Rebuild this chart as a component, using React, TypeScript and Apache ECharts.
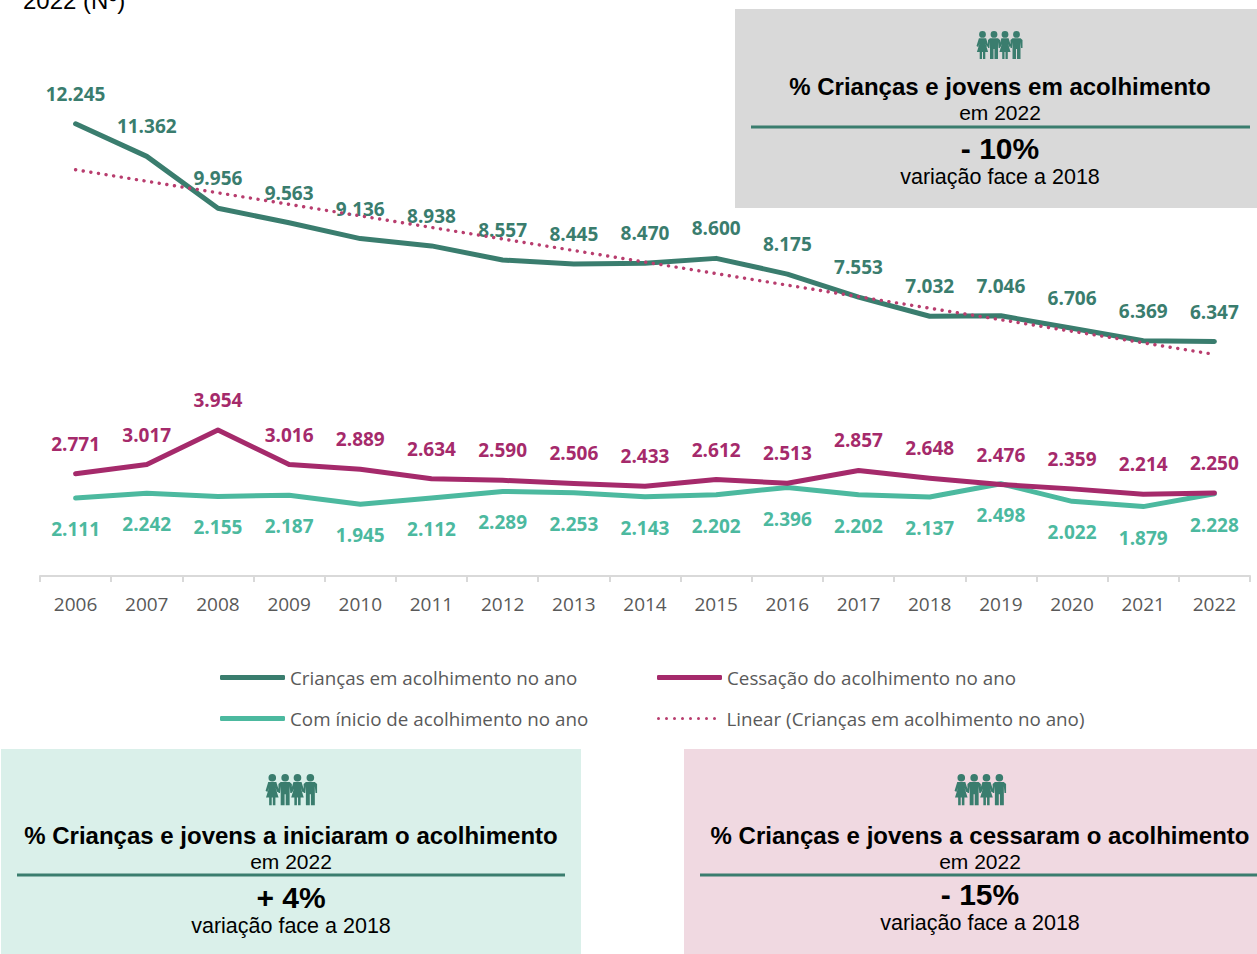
import React, { useEffect, useRef } from "react";
import * as echarts from "echarts";

const years = ["2006","2007","2008","2009","2010","2011","2012","2013","2014","2015","2016","2017","2018","2019","2020","2021","2022"];
const acolhimento = [12245,11362,9956,9563,9136,8938,8557,8445,8470,8600,8175,7553,7032,7046,6706,6369,6347];
const cessacao = [2771,3017,3954,3016,2889,2634,2590,2506,2433,2612,2513,2857,2648,2476,2359,2214,2250];
const inicio = [2111,2242,2155,2187,1945,2112,2289,2253,2143,2202,2396,2202,2137,2498,2022,1879,2228];
const trendEnds = [11000,null,null,null,null,null,null,null,null,null,null,null,null,null,null,null,6000];

const nameA = "Crianças em acolhimento no ano";
const nameC = "Cessação do acolhimento no ano";
const nameI = "Com ínicio de acolhimento no ano";
const nameT = "Linear (Crianças em acolhimento no ano)";

const DARK = "#3a7d6e";
const CRIMSON = "#a52a6b";
const TEAL = "#4cb99f";
const DOT = "#b83d6e";
const GREY = "#595959";
const LABEL_FONT = "Open Sans";
const BOX_FONT = "Liberation Sans";

const fmt = (v: number) => {
  const s = String(v);
  return s.length > 3 ? s.slice(0, -3) + "." + s.slice(-3) : s;
};

const girl = (c: number) =>
  `M${c + 3.4} 3.4A3.4 3.4 0 1 1 ${c - 3.4} 3.4A3.4 3.4 0 1 1 ${c + 3.4} 3.4Z` +
  `M${c - 3.6} 7.2L${c + 3.6} 7.2L${c + 6} 15L${c + 4.4} 16L${c + 3} 12.5L${c + 5.6} 21L${c + 2.8} 21L${c + 2.8} 28L${c + 0.5} 28L${c + 0.5} 21L${c - 0.5} 21L${c - 0.5} 28L${c - 2.8} 28L${c - 2.8} 21L${c - 5.6} 21L${c - 3} 12.5L${c - 4.4} 16L${c - 6} 15Z`;
const boy = (c: number) =>
  `M${c + 3.4} 3.4A3.4 3.4 0 1 1 ${c - 3.4} 3.4A3.4 3.4 0 1 1 ${c + 3.4} 3.4Z` +
  `M${c - 4} 7.2L${c + 4} 7.2L${c + 6} 9L${c + 6} 17L${c + 4.6} 17L${c + 4} 11L${c + 4} 28L${c + 0.5} 28L${c + 0.5} 18L${c - 0.5} 18L${c - 0.5} 28L${c - 4} 28L${c - 4} 11L${c - 4.6} 17L${c - 6} 17L${c - 6} 9Z`;
const peoplePath = girl(6.5) + boy(18) + girl(29) + boy(40.5);
echarts.graphic.registerShape("people", echarts.graphic.extendPath(peoplePath, {}));

const dotsIcon =
  "path://" +
  [0, 1, 2, 3, 4, 5, 6, 7].map((i) => {
    const c = i * 8 + 1.5;
    return `M${c + 1.5} 1.5A1.5 1.5 0 1 1 ${c - 1.5} 1.5A1.5 1.5 0 1 1 ${c + 1.5} 1.5Z`;
  }).join("");

const text = (t: string, x: number, y: number, size: number, bold = false) => ({
  type: "text",
  x,
  y,
  z: 10,
  style: {
    text: t,
    x: 0,
    y: 0,
    fill: "#000",
    align: "center",
    verticalAlign: "middle",
    fontFamily: BOX_FONT,
    fontSize: size,
    fontWeight: bold ? "bold" : "normal",
  },
});

const panel = (
  r: { x: number; y: number; w: number; h: number; fill: string },
  cx: number,
  title: string,
  change: string,
  ys: number[],
  rule: number[],
  icon: { x: number; y: number; s: number },
) => [
  { type: "rect", z: 5, shape: { x: r.x, y: r.y, width: r.w, height: r.h }, style: { fill: r.fill } },
  { type: "people", z: 10, x: icon.x, y: icon.y, scaleX: icon.s, scaleY: icon.s, style: { fill: DARK } },
  text(title, cx, ys[0], 24, true),
  text("em 2022", cx, ys[1], 21),
  { type: "line", z: 10, shape: { x1: rule[0], y1: ys[2], x2: rule[1], y2: ys[2] }, style: { stroke: DARK, lineWidth: 3 } },
  text(change, cx, ys[3], 30, true),
  text("variação face a 2018", cx, ys[4], 21.5),
];

export default function App() {
  const ref = useRef<HTMLDivElement>(null);
  useEffect(() => {
    const chart = echarts.init(ref.current!, undefined, { renderer: "svg" });
    const lbl = (color: string, position: string) => ({
      show: true,
      position,
      distance: position === "bottom" ? 21 : 20,
      color,
      fontFamily: LABEL_FONT,
      fontWeight: 700,
      fontSize: 19,
      formatter: (p: any) => fmt(p.value),
    });
    const legendBase = {
      padding: 0,
      itemWidth: 65,
      itemHeight: 5,
      textStyle: { color: GREY, fontFamily: LABEL_FONT, fontSize: 18.8 },
      selectedMode: false,
    };
    const line = (name: string, data: any[], color: string, position: string, z: number) => ({
      name,
      type: "line",
      data,
      symbol: "circle",
      symbolSize: 1,
      showSymbol: true,
      showAllSymbol: true,
      z,
      lineStyle: { color, width: 5, cap: "round", join: "round" },
      itemStyle: { color },
      label: lbl(color, position),
    });
    chart.setOption({
      animation: false,
      backgroundColor: "#fff",
      grid: { left: 40, right: 7, top: 22, bottom: 378 },
      xAxis: {
        type: "category",
        data: years,
        boundaryGap: true,
        axisLine: { lineStyle: { color: "#d9d9d9", width: 2 } },
        axisTick: { show: true, length: 6, lineStyle: { color: "#d9d9d9", width: 2 } },
        axisLabel: { color: GREY, fontFamily: LABEL_FONT, fontSize: 19, margin: 18 },
      },
      yAxis: { type: "value", min: 0, max: 15000, show: false, splitLine: { show: false } },
      legend: [
        { ...legendBase, left: 220, top: 668, icon: "roundRect", data: [nameA] },
        { ...legendBase, left: 657, top: 668, icon: "roundRect", data: [nameC] },
        { ...legendBase, left: 220, top: 709, icon: "roundRect", data: [nameI] },
        {
          ...legendBase,
          left: 657,
          top: 709,
          itemWidth: 60,
          itemHeight: 3,
          icon: dotsIcon,
          textStyle: { ...legendBase.textStyle, padding: [0, 0, 0, 5] },
          data: [nameT],
        },
      ],
      series: [
        line(nameA, acolhimento, DARK, "top", 3),
        line(nameC, cessacao, CRIMSON, "top", 3),
        line(nameI, inicio, TEAL, "bottom", 2),
        { name: nameT, type: "line", data: trendEnds, connectNulls: true, symbol: "none", z: 4, lineStyle: { color: DOT, width: 3.4, type: [0.1, 7.6], cap: "round" }, itemStyle: { color: DOT } },
      ],
      graphic: [
        { type: "text", x: 23, y: -12, z: 10, style: { text: "2022 (Nº)", fill: "#000", fontFamily: BOX_FONT, fontSize: 24 } },
        ...panel({ x: 735, y: 9, w: 522, h: 199, fill: "#d9d9d9" }, 1000, "% Crianças e jovens em acolhimento", "- 10%", [86.5, 112, 127, 148, 176.5], [751, 1250], { x: 976, y: 31, s: 1 }),
        ...panel({ x: 1, y: 749, w: 580, h: 205, fill: "#daf0ea" }, 291, "% Crianças e jovens a iniciaram o acolhimento", "+ 4%", [835.5, 861, 875, 897, 925.5], [17, 565], { x: 265, y: 774, s: 1.12 }),
        ...panel({ x: 684, y: 749, w: 573, h: 205, fill: "#f0d9e1" }, 980, "% Crianças e jovens a cessaram o acolhimento", "- 15%", [835.5, 861, 875, 894, 922.5], [700, 1257], { x: 954, y: 774, s: 1.12 }),
      ],
    });
    return () => chart.dispose();
  }, []);
  return <div ref={ref} style={{ position: "absolute", left: 0, top: 0, width: 1257, height: 954, overflow: "hidden" }} />;
}
